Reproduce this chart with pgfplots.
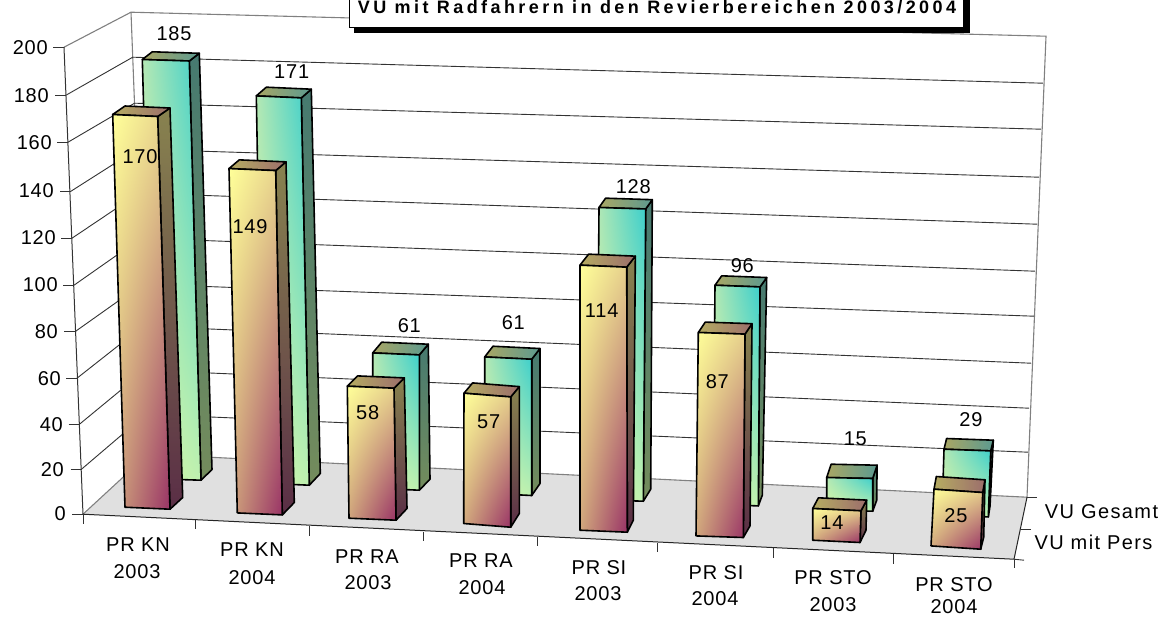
\documentclass[border=0pt]{standalone}
\usepackage{fontspec}
\usepackage{pgfplots}
\usepackage{pgfplotstable}
\pgfplotsset{compat=1.18}
\usetikzlibrary{shadings}
\setmainfont[LetterSpace=4]{Liberation Sans}
\newfontfamily\widefont[LetterSpace=7]{Liberation Sans}
\newfontfamily\titlefont[LetterSpace=19]{Liberation Sans}

\definecolor{Fa}{HTML}{FFFF99}\definecolor{Fb}{HTML}{E6D08C}\definecolor{Fc}{HTML}{D0A67C}\definecolor{Fd}{HTML}{993366}
\definecolor{FTa}{HTML}{B5AC62}\definecolor{FTb}{HTML}{9C6E6C}
\definecolor{FSt}{HTML}{88834F}\definecolor{FSb}{HTML}{5A2E46}
\definecolor{Ba}{HTML}{B4E8B4}\definecolor{Bb}{HTML}{3CCFCC}\definecolor{Bc}{HTML}{DAF9A4}\definecolor{Bd}{HTML}{BEF0B0}
\definecolor{BTa}{HTML}{A9A664}\definecolor{BTb}{HTML}{5C9A90}
\definecolor{BSt}{HTML}{467A70}\definecolor{BSb}{HTML}{748C5C}

% Value, then where the bar stands on the floor (px) and its px per unit
\pgfplotstableread{
val xl yl xr yr kxl kxr ky dxt dyt dxb dyb
185 154.0 478.5 201.0 480.0 -0.0632 -0.0632 2.266 10.0 -7.7 11.0 -10.7
171 263.3 483.0 309.3 485.0 -0.0409 -0.0468 2.265 10.0 -8.7 11.0 -11.7
61 372.7 488.0 419.3 490.0 0 0 2.218 9.0 -10.7 10.7 -11.0
61 484.7 493.0 531.7 495.3 0 0 2.234 8.3 -10.7 8.3 -12.0
128 596.6 499.5 643.3 501.0 0.0188 0.0188 2.283 6.6 -9.3 7.4 -12.0
96 713.0 504.0 758.3 505.7 0.0208 0.0177 2.281 6.7 -9.4 4.0 -10.7
15 826.7 510.0 872.7 511.0 0 0 2.180 4.4 -13.3 4.0 -11.0
29 942.0 515.0 988.3 516.7 0.069 0.083 2.276 2.6 -10.7 1.7 -10.7
}\backbars
\pgfplotstableread{
val xl yl xr yr kxl kxr ky dxt dyt dxb dyb
170 125.0 507.0 170.0 509.0 -0.0724 -0.0724 2.310 12.3 -8.5 12.7 -11.7
149 237.3 512.7 282.3 514.7 -0.0557 -0.0443 2.311 10.3 -8.7 12.0 -12.4
58 349.0 518.0 396.0 520.0 -0.0293 -0.0345 2.276 10.3 -10.3 11.0 -11.7
57 463.7 523.3 510.7 527.0 0.005 0 2.286 8.6 -10.3 8.6 -13.7
114 580.0 530.0 627.3 532.0 0 -0.005 2.325 8.6 -11.0 6.0 -12.0
87 696.0 535.7 743.3 537.3 0.0264 0.0195 2.338 7.0 -10.4 6.7 -11.6
14 812.7 540.0 860.0 542.3 0 0.07 2.264 5.7 -10.7 6.0 -12.3
25 931.0 545.7 980.7 549.0 0.12 0.08 2.268 2.3 -12.7 3.0 -12.0
}\frontbars

\newcommand\OneBar[3]{% table, row, prefix
    \pgfplotstablegetelem{#2}{val}\of{#1}\let\myv\pgfplotsretval
    \pgfplotstablegetelem{#2}{xl}\of{#1}\let\myxl\pgfplotsretval
    \pgfplotstablegetelem{#2}{yl}\of{#1}\let\myyl\pgfplotsretval
    \pgfplotstablegetelem{#2}{xr}\of{#1}\let\myxr\pgfplotsretval
    \pgfplotstablegetelem{#2}{yr}\of{#1}\let\myyr\pgfplotsretval
    \pgfplotstablegetelem{#2}{kxl}\of{#1}\let\mykxl\pgfplotsretval
    \pgfplotstablegetelem{#2}{kxr}\of{#1}\let\mykxr\pgfplotsretval
    \pgfplotstablegetelem{#2}{ky}\of{#1}\let\myky\pgfplotsretval
    \pgfplotstablegetelem{#2}{dxt}\of{#1}\let\mydxt\pgfplotsretval
    \pgfplotstablegetelem{#2}{dyt}\of{#1}\let\mydyt\pgfplotsretval
    \pgfplotstablegetelem{#2}{dxb}\of{#1}\let\mydxb\pgfplotsretval
    \pgfplotstablegetelem{#2}{dyb}\of{#1}\let\mydyb\pgfplotsretval
    \pgfmathsetmacro\mytxl{\myxl+\mykxl*\myv}%
    \pgfmathsetmacro\mytyl{\myyl-\myky*\myv}%
    \pgfmathsetmacro\mytxr{\myxr+\mykxr*\myv}%
    \pgfmathsetmacro\mytyr{\myyr-\myky*\myv}%
    \pgfmathsetmacro\mysxt{\mytxr+\mydxt}%
    \pgfmathsetmacro\mysyt{\mytyr+\mydyt}%
    \pgfmathsetmacro\mysxb{\myxr+\mydxb}%
    \pgfmathsetmacro\mysyb{\myyr+\mydyb}%
    \pgfmathsetmacro\mybxt{\mytxl+\mydxt}%
    \pgfmathsetmacro\mybyt{\mytyl+\mydyt}%
    \addplot[draw=black,line width=1.6pt,line join=round,top color=#3St,bottom color=#3Sb]
      coordinates {(\mytxr,\mytyr) (\mysxt,\mysyt) (\mysxb,\mysyb) (\myxr,\myyr)} --cycle;
    \addplot[draw=black,line width=1.6pt,line join=round,left color=#3Ta,right color=#3Tb]
      coordinates {(\mytxl,\mytyl) (\mybxt,\mybyt) (\mysxt,\mysyt) (\mytxr,\mytyr)} --cycle;
    \addplot[draw=black,line width=1.6pt,line join=round,
      upper left=#3a,upper right=#3b,lower left=#3c,lower right=#3d]
      coordinates {(\mytxl,\mytyl) (\mytxr,\mytyr) (\myxr,\myyr) (\myxl,\myyl)} --cycle;
}
\newcommand\GL[3]{\addplot[draw=#1,line width=#2] coordinates {#3};}

\begin{document}
\begin{tikzpicture}
\begin{axis}[
  scale only axis, width=1164pt, height=616pt,
  xmin=0, xmax=1164, ymin=0, ymax=616, y dir=reverse,
  hide axis, no markers,
]
% canvas
\addplot[fill=white,draw=none] coordinates {(0,0)(1164,0)(1164,616)(0,616)} --cycle;
% floor
\addplot[fill=black!12,draw=none] coordinates {(83,514)(1014,559)(1027,497)(148,454)} --cycle;
% walls' outlines
\GL{black!50}{1.1pt}{(64,47)(131,12)(1046,36)(1027,497)}
\GL{black!50}{1.1pt}{(131,12)(148,454)}
\GL{black!50}{1.1pt}{(83,514)(148,454)(1027,497)}
% gridlines: front axis -- back left -- back right
\GL{black!80}{0.9pt}{(66,95)(132.7,57)(1043,83)}
\GL{black!80}{0.9pt}{(68,142)(134.5,103)(1041,129)}
\GL{black!80}{0.9pt}{(71,191)(137,149)(1039,177)}
\GL{black!80}{0.9pt}{(72,238)(139,193)(1037,224)}
\GL{black!80}{0.9pt}{(74,285)(141,238)(1035,271)}
\GL{black!80}{0.9pt}{(75,331.5)(142,284)(1034,316)}
\GL{black!80}{0.9pt}{(77,378)(143,326)(1031,363)}
\GL{black!80}{0.9pt}{(79.5,424)(145,370)(1029,408)}
\GL{black!80}{0.9pt}{(81.5,469)(146,414)(1028,452)}
% axes
\GL{black!80}{1pt}{(64,47)(83,514)}
\GL{black!85}{1pt}{(83,514)(1014,559)(1027,497)}
% ticks
\GL{black!80}{0.9pt}{(53,47)(64,47)}
\GL{black!80}{0.9pt}{(55,95)(66,95)}
\GL{black!80}{0.9pt}{(57,142)(68,142)}
\GL{black!80}{0.9pt}{(60,191)(71,191)}
\GL{black!80}{0.9pt}{(61,238)(72,238)}
\GL{black!80}{0.9pt}{(63,285)(74,285)}
\GL{black!80}{0.9pt}{(64,331.5)(75,331.5)}
\GL{black!80}{0.9pt}{(66,378)(77,378)}
\GL{black!80}{0.9pt}{(68.5,424)(79.5,424)}
\GL{black!80}{0.9pt}{(70.5,469)(81.5,469)}
\GL{black!80}{0.9pt}{(72,514)(83,514)}
\GL{black!80}{0.9pt}{(83,514)(83,524)}
\GL{black!80}{0.9pt}{(195,520)(195,529)}
\GL{black!80}{0.9pt}{(309,526)(309,536)}
\GL{black!80}{0.9pt}{(423,532)(423,541)}
\GL{black!80}{0.9pt}{(537,537)(537,546)}
\GL{black!80}{0.9pt}{(657,543)(657,552)}
\GL{black!80}{0.9pt}{(773,548)(773,558)}
\GL{black!80}{0.9pt}{(893,554)(893,564)}
\GL{black!80}{0.9pt}{(1014,559)(1014,568)}
\GL{black!80}{0.9pt}{(1027,497)(1037,497)}
\GL{black!80}{0.9pt}{(1021,529)(1031,529)}
\GL{black!80}{0.9pt}{(1014,559)(1024,560)}
% bars
\OneBar{\backbars}{0}{B}
\OneBar{\backbars}{1}{B}
\OneBar{\backbars}{2}{B}
\OneBar{\backbars}{3}{B}
\OneBar{\backbars}{4}{B}
\OneBar{\backbars}{5}{B}
\OneBar{\backbars}{6}{B}
\OneBar{\backbars}{7}{B}
\OneBar{\frontbars}{0}{F}
\OneBar{\frontbars}{1}{F}
\OneBar{\frontbars}{2}{F}
\OneBar{\frontbars}{3}{F}
\OneBar{\frontbars}{4}{F}
\OneBar{\frontbars}{5}{F}
\OneBar{\frontbars}{6}{F}
\OneBar{\frontbars}{7}{F}
% value labels
\addplot[draw=none,nodes near coords,point meta=explicit symbolic,
  every node near coord/.append style={font=\fontsize{20}{22}\selectfont,text=black,inner sep=0pt,anchor=center}]
 table[x=x,y=y,meta=v] {
x y v
174 33 185
291.7 71.7 171
409.3 325 61
513.3 322.7 61
633.3 186.7 128
742.3 265 96
855.3 438.3 15
971 419.3 29
140 156.7 170
250 226.7 149
367.7 412.7 58
488.7 421.7 57
601.7 310 114
717.3 381.7 87
832 522.7 14
956 515.7 25
};
% tick labels of the value axis
\addplot[draw=none,nodes near coords,point meta=explicit symbolic,
  every node near coord/.append style={font=\fontsize{20}{22}\selectfont,text=black,inner sep=0pt,anchor=east}]
 table[x=x,y=y,meta=v] {
x y v
48 47 200
49 95 180
52 142 160
54 190 140
56 237 120
58 284 100
58 331 80
61 378 60
63 424 40
64 469 20
66 513 0
};
% category labels
\addplot[draw=none,nodes near coords,point meta=explicit symbolic,
  every node near coord/.append style={font=\fontsize{20}{22}\selectfont,text=black,inner sep=0pt,anchor=center}]
 table[x=x,y=y,meta=v,col sep=comma] {
x,y,v
138,544,PR KN
137,571,2003
252,549,PR KN
252,577,2004
367,556,PR RA
368,582,2003
481,560,PR RA
482,587,2004
599,567,PR SI
598,593,2003
716,572,PR SI
715,598,2004
833,577,PR STO
833,604,2003
954,584,PR STO
954,606.5,2004
};
\addplot[draw=none,nodes near coords,point meta=explicit symbolic,
  every node near coord/.append style={font=\widefont\fontsize{20}{22}\selectfont,text=black,inner sep=0pt,anchor=center}]
 table[x=x,y=y,meta=v,col sep=comma] {
x,y,v
1101.5,511,VU Gesamt
1093.5,542,VU mit Pers
};
% title box
\addplot[fill=black,draw=none] coordinates {(354,-5)(970,-5)(970,33)(354,33)} --cycle;
\addplot[fill=white,draw=black,line width=0.8pt] coordinates {(349,-5)(963,-5)(963,27)(349,27)} --cycle;
\addplot[draw=none,nodes near coords,point meta=explicit symbolic,
  every node near coord/.append style={font=\titlefont\bfseries\fontsize{18}{20}\selectfont,text=black,inner sep=0pt,anchor=center}]
 table[x=x,y=y,meta=v,col sep=comma] {
x,y,v
657,6.5,VU mit Radfahrern in den Revierbereichen 2003/2004
};
\end{axis}
\end{tikzpicture}
\end{document}
